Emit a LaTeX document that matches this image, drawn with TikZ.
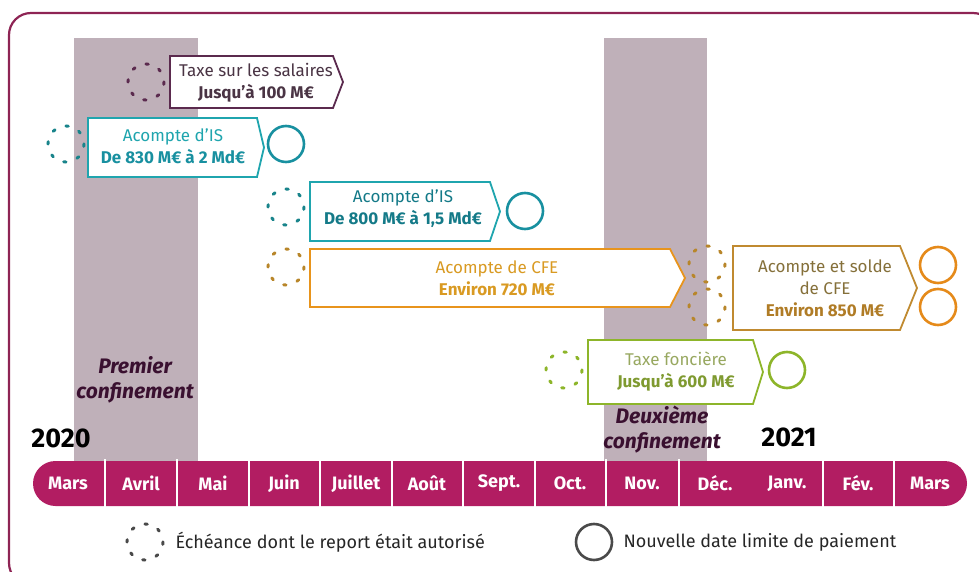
\documentclass[tikz,border=0pt]{standalone}
\usepackage{fontspec}
\setmainfont{Fira Sans}
\definecolor{frame}{HTML}{8E2454}
\definecolor{band}{HTML}{BFB0B9}
\definecolor{bar}{HTML}{B21D62}
\definecolor{plum}{HTML}{5B2A4E}
\definecolor{plumtxt}{HTML}{4A3444}
\definecolor{teal}{HTML}{1FA5AE}
\definecolor{tealdk}{HTML}{1890A0}
\definecolor{cfe}{HTML}{E8941C}
\definecolor{cfetxt}{HTML}{D99A22}
\definecolor{cfedot}{HTML}{B8862A}
\definecolor{solde}{HTML}{C08A30}
\definecolor{soldetxt}{HTML}{85703A}
\definecolor{soldebold}{HTML}{B07C26}
\definecolor{soldecirc}{HTML}{E58A1A}
\definecolor{green}{HTML}{8DB52A}
\definecolor{greentxt}{HTML}{98A860}
\definecolor{greenbold}{HTML}{7F9A30}
\definecolor{conf}{HTML}{3A1030}
\definecolor{leg}{HTML}{4A4A4A}
\tikzset{
  dotc/.style={draw=#1, line width=3pt, dash pattern=on 2.4pt off 11.7pt, line cap=round},
  solc/.style={draw=#1, line width=2.6pt},
  abox/.style={draw=#1, line width=1.8pt, fill=white, line join=miter},
  btxt/.style={align=center, font=\fontsize{17}{22}\selectfont},
  month/.style={text=white, font=\fontsize{18}{20}\selectfont\bfseries},
  confl/.style={text=conf, align=center, font=\fontsize{21}{25}\selectfont\bfseries\itshape},
  yearl/.style={text=black, font=\fontsize{27}{28}\selectfont\bfseries},
  legt/.style={text=black!85, anchor=west, font=\fontsize{18}{20}\selectfont},
}
\begin{document}
\begin{tikzpicture}[x=1pt,y=-1pt]
\useasboundingbox (0,0) rectangle (979,572);
% frame
\draw[frame, line width=2.2pt, rounded corners=22pt] (9,13) rectangle (995,585);
% confinement bands
\fill[band] (74,38) rectangle (198,461);
\fill[band] (604,38) rectangle (707,461);
% timeline bar
\fill[bar, rounded corners=22.5pt] (33,461) rectangle (967,506);
\foreach \xx in {105,177,249,320,392,463,535,606,679,823,894}
  \draw[white, line width=1.4pt] (\xx,459) -- (\xx,508);
\foreach \xx/\mm/\nm in {68/Mars/m1,141/Avril/m2,213/Mai/m3,284/Juin/m4,356/Juillet/m5,427/Août/m6,499/Sept./m7,570/Oct./m8,642/Nov./m9,715/Déc./m10,787/Janv./m11,858/Fév./m12,930/Mars/m13}
  \node[month] (\nm) at (\xx,483.5) {\mm};
% labels
\node[confl] (conf1) at (135,380) {Premier\\confinement};
\node[confl] (conf2) at (662,430) {Deuxième\\confinement};
\node[yearl] (y2020) at (61,438) {2020};
\node[yearl] (y2021) at (789,437) {2021};
% Taxe sur les salaires
\draw[abox=plum] (170,56) -- (333,56) -- (343,82) -- (333,108) -- (170,108) -- cycle;
\node[btxt, text=plumtxt] (tss) at (256,83) {Taxe sur les salaires\\\textbf{Jusqu'à 100 M€}};
\draw[dotc=plum] (146,82) circle (18);
% Acompte IS 1
\draw[abox=teal] (88,118) -- (257,118) -- (264,147.5) -- (257,177) -- (88,177) -- cycle;
\node[btxt, text=teal] (is1) at (173,146) {Acompte d’IS\\\textcolor{tealdk}{\textbf{De 830 M€ à 2 Md€}}};
\draw[dotc=teal!80!black] (66,144) circle (18);
\draw[solc=tealdk] (286,144) circle (18);
% Acompte IS 2
\draw[abox=teal] (310,182) -- (490,182) -- (500,211.5) -- (490,241) -- (310,241) -- cycle;
\node[btxt, text=tealdk!85!black] (is2) at (403,209) {Acompte d’IS\\\textbf{De 800 M€ à 1,5 Md€}};
\draw[dotc=teal!80!black] (286,207) circle (18);
\draw[solc=tealdk] (525,211) circle (18);
% Acompte de CFE
\draw[abox=cfe] (310,249) -- (670,249) -- (685,278) -- (670,307) -- (310,307) -- cycle;
\node[btxt, text=cfetxt] (cfe1) at (497,278) {Acompte de CFE\\\textbf{Environ 720 M€}};
\draw[dotc=cfedot] (286,267) circle (18);
\draw[dotc=cfedot] (707,264) circle (18);
\draw[dotc=cfedot] (707,307) circle (18);
% Acompte et solde de CFE
\draw[abox=solde] (733,246) -- (900,246) -- (917,288) -- (900,330) -- (733,330) -- cycle;
\node[btxt, text=soldetxt] (cfe2) at (825,288) {Acompte et solde\\de CFE\\\textcolor{soldebold}{\textbf{Environ 850 M€}}};
\draw[solc=soldecirc] (938,265) circle (18);
\draw[solc=soldecirc] (938,307) circle (18);
% Taxe fonciere
\draw[abox=green] (588,340) -- (753,340) -- (763,372) -- (753,404) -- (588,404) -- cycle;
\node[btxt, text=greentxt] (tf) at (676,372) {Taxe foncière\\\textcolor{greenbold}{\textbf{Jusqu'à 600 M€}}};
\draw[dotc=green] (564,370) circle (18);
\draw[solc=green] (787,370) circle (18);
% legend
\draw[dotc=leg] (145,542) circle (18);
\node[legt] (l1) at (172,542) {Échéance dont le report était autorisé};
\draw[solc=leg] (594,542) circle (18);
\node[legt] (l2) at (620,542) {Nouvelle date limite de paiement};
\end{tikzpicture}
\end{document}
